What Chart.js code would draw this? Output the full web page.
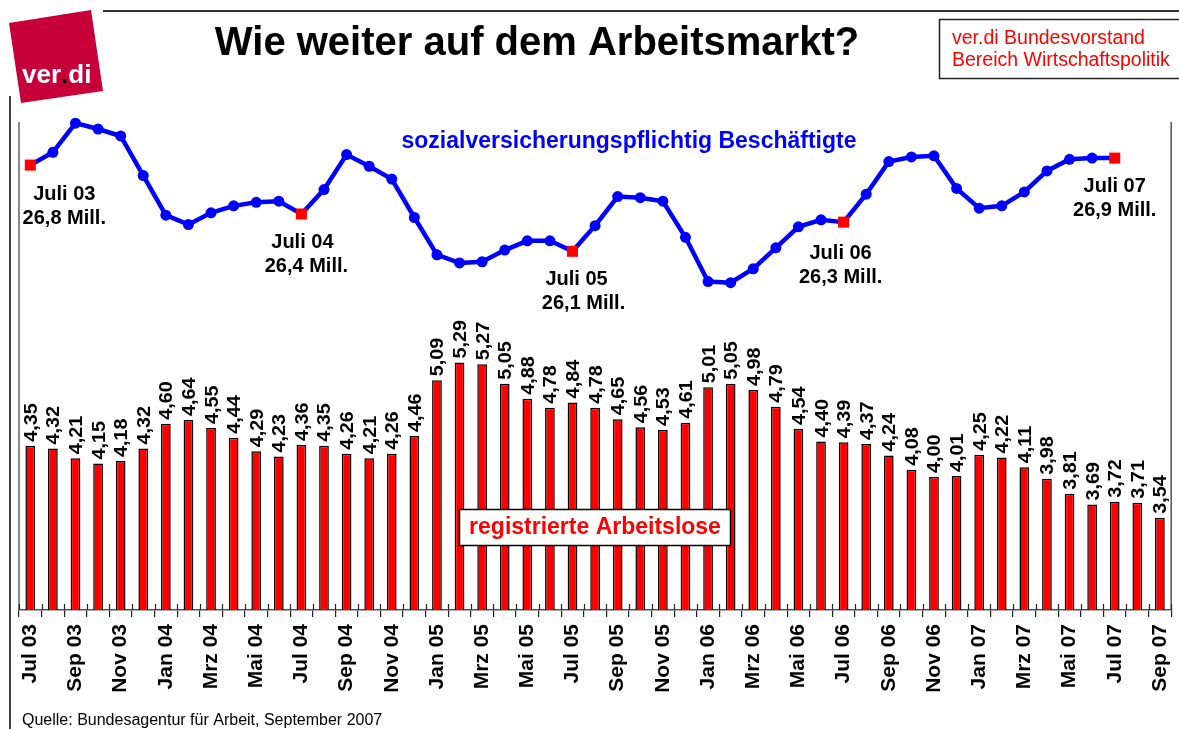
<!DOCTYPE html>
<html>
<head>
<meta charset="utf-8">
<script src="https://cdn.jsdelivr.net/npm/chart.js@4"></script>
<style>
  body { margin: 0; background: #fff; }
</style>
</head>
<body>
<canvas id="chart" width="1179" height="729"></canvas>
<script>
// month labels (x axis), only every 2nd one is printed
const months = [
  "Jul 03", "Aug 03", "Sep 03", "Okt 03", "Nov 03", "Dez 03",
  "Jan 04", "Feb 04", "Mrz 04", "Apr 04", "Mai 04", "Jun 04", "Jul 04", "Aug 04", "Sep 04", "Okt 04", "Nov 04", "Dez 04",
  "Jan 05", "Feb 05", "Mrz 05", "Apr 05", "Mai 05", "Jun 05", "Jul 05", "Aug 05", "Sep 05", "Okt 05", "Nov 05", "Dez 05",
  "Jan 06", "Feb 06", "Mrz 06", "Apr 06", "Mai 06", "Jun 06", "Jul 06", "Aug 06", "Sep 06", "Okt 06", "Nov 06", "Dez 06",
  "Jan 07", "Feb 07", "Mrz 07", "Apr 07", "Mai 07", "Jun 07", "Jul 07", "Aug 07", "Sep 07",
];

// registrierte Arbeitslose (Mio.)
const arbeitslose = [
  4.35, 4.32, 4.21, 4.15, 4.18, 4.32,
  4.60, 4.64, 4.55, 4.44, 4.29, 4.23, 4.36, 4.35, 4.26, 4.21, 4.26, 4.46,
  5.09, 5.29, 5.27, 5.05, 4.88, 4.78, 4.84, 4.78, 4.65, 4.56, 4.53, 4.61,
  5.01, 5.05, 4.98, 4.79, 4.54, 4.40, 4.39, 4.37, 4.24, 4.08, 4.00, 4.01,
  4.25, 4.22, 4.11, 3.98, 3.81, 3.69, 3.72, 3.71, 3.54,
];

// sozialversicherungspflichtig Beschaeftigte (Mio.), Jul 03 - Jul 07
const beschaeftigte = [
  26.82, 26.93, 27.18, 27.13, 27.07, 26.73,
  26.39, 26.31, 26.41, 26.47, 26.50, 26.51, 26.40, 26.61, 26.91, 26.81, 26.70, 26.37,
  26.05, 25.98, 25.99, 26.09, 26.17, 26.17, 26.08, 26.30, 26.55, 26.54, 26.51, 26.20,
  25.82, 25.81, 25.93, 26.11, 26.29, 26.35, 26.33, 26.57, 26.85, 26.89, 26.90, 26.62,
  26.45, 26.47, 26.59, 26.77, 26.87, 26.88, 26.88,
];

// marked July points with their callouts
const markIdx = [0, 12, 24, 36, 48];
const markTitles = ["Juli 03", "Juli 04", "Juli 05", "Juli 06", "Juli 07"];
const markValues = ["26,8 Mill.", "26,4 Mill.", "26,1 Mill.", "26,3 Mill.", "26,9 Mill."];

const titleText = "Wie weiter auf dem Arbeitsmarkt?";
const boxLines = ["ver.di Bundesvorstand", "Bereich Wirtschaftspolitik"];
const lineLabel = "sozialversicherungspflichtig Beschäftigte";
const barLabel = "registrierte Arbeitslose";
const sourceText = "Quelle: Bundesagentur für Arbeit, September 2007";

// callout offsets relative to the marked point (layout only)
const calloutDx1 = [34, 1, 4, -3, 0];
const calloutDx2 = [34, 5, 11, -3, 0];
const calloutDy = [35, 34, 34, 37, 34];

const FONT = '"Liberation Sans", Arial, Helvetica, sans-serif';

const lineData = months.map((m, i) => (i < beschaeftigte.length ? beschaeftigte[i] : null));
const isMark = (i) => markIdx.includes(i);

function seg(ctx, x1, y1, x2, y2) {
  ctx.beginPath();
  ctx.moveTo(x1, y1);
  ctx.lineTo(x2, y2);
  ctx.stroke();
}

const decor = {
  id: "decor",
  beforeDraw(chart) {
    const ctx = chart.ctx;
    const a = chart.chartArea;
    ctx.save();
    ctx.fillStyle = "#fff";
    ctx.fillRect(0, 0, chart.width, chart.height);

    // header rule + left frame
    ctx.strokeStyle = "#333";
    ctx.lineWidth = 2;
    seg(ctx, 103, 11, 1179, 11);
    ctx.strokeStyle = "#000";
    ctx.lineWidth = 1.5;
    seg(ctx, 10, 96, 10, 729);

    // logo
    ctx.fillStyle = "#c8003a";
    ctx.beginPath();
    ctx.moveTo(9, 23);
    ctx.lineTo(91, 10);
    ctx.lineTo(103, 91);
    ctx.lineTo(21, 103);
    ctx.closePath();
    ctx.fill();
    ctx.font = "bold 26px " + FONT;
    ctx.textBaseline = "alphabetic";
    ctx.textAlign = "left";
    let x = 22;
    ctx.fillStyle = "#fff";
    ctx.fillText("ver", x, 83);
    x += ctx.measureText("ver").width;
    ctx.fillStyle = "#000";
    ctx.fillText(".", x, 83);
    x += ctx.measureText(".").width;
    ctx.fillStyle = "#fff";
    ctx.fillText("di", x, 83);

    // title
    ctx.fillStyle = "#000";
    ctx.font = "bold 40px " + FONT;
    ctx.textAlign = "center";
    ctx.fillText(titleText, 537, 55);

    // box top right
    ctx.strokeStyle = "#222";
    ctx.lineWidth = 1.5;
    ctx.strokeRect(939.5, 19.5, 260, 59);
    ctx.fillStyle = "#ff0000";
    ctx.font = "19.5px " + FONT;
    ctx.textAlign = "left";
    ctx.fillText(boxLines[0], 952, 43.5);
    ctx.fillText(boxLines[1], 952, 66);

    // source
    ctx.fillStyle = "#000";
    ctx.font = "16px " + FONT;
    ctx.fillText(sourceText, 22, 725);

    // plot area side lines
    ctx.strokeStyle = "#888";
    ctx.lineWidth = 2;
    seg(ctx, a.left, a.top, a.left, a.bottom);
    ctx.strokeStyle = "#555";
    ctx.lineWidth = 1.5;
    seg(ctx, a.right, a.top, a.right, a.bottom);
    ctx.restore();
  },
  afterDatasetsDraw(chart) {
    const ctx = chart.ctx;
    const xs = chart.scales.x;
    const a = chart.chartArea;
    ctx.save();

    // upper part of the tick marks
    ctx.strokeStyle = "#222";
    ctx.lineWidth = 1.2;
    for (let i = 0; i <= months.length; i++) {
      const px = Math.round(xs.getPixelForValue(i - 0.5)) + 0.5;
      seg(ctx, px, a.bottom - 6, px, a.bottom);
    }

    // value labels on bars, rotated
    const fs = 18;
    ctx.fillStyle = "#000";
    ctx.font = "bold " + fs + "px " + FONT;
    ctx.textAlign = "left";
    ctx.textBaseline = "alphabetic";
    chart.getDatasetMeta(0).data.forEach((bar, i) => {
      const txt = arbeitslose[i].toFixed(2).replace(".", ",");
      ctx.save();
      ctx.translate(bar.x, bar.y - 4);
      ctx.rotate(-Math.PI / 2);
      ctx.scale(1.1, 1);
      ctx.fillText(txt, 0, fs * 0.36);
      ctx.restore();
    });

    // callouts at the July points
    const pts = chart.getDatasetMeta(1).data;
    ctx.font = "bold 20px " + FONT;
    ctx.textAlign = "center";
    markIdx.forEach((idx, k) => {
      const p = pts[idx];
      ctx.fillText(markTitles[k], p.x + calloutDx1[k], p.y + calloutDy[k]);
      ctx.fillText(markValues[k], p.x + calloutDx2[k], p.y + calloutDy[k] + 24);
    });

    // series captions
    ctx.fillStyle = "#0000ff";
    ctx.font = "bold 23px " + FONT;
    ctx.fillText(lineLabel, 629, 148);

    ctx.fillStyle = "#fff";
    ctx.fillRect(459.5, 509.5, 271, 36);
    ctx.strokeStyle = "#000";
    ctx.lineWidth = 1.5;
    ctx.strokeRect(459.5, 509.5, 271, 36);
    ctx.fillStyle = "#ff0000";
    ctx.fillText(barLabel, 595, 534);
    ctx.restore();
  },
};

new Chart(document.getElementById("chart"), {
  type: "bar",
  data: {
    labels: months,
    datasets: [
      {
        type: "bar",
        data: arbeitslose,
        yAxisID: "yBar",
        backgroundColor: "#ff0000",
        borderColor: "#000",
        borderWidth: 1.5,
        barPercentage: 0.43,
        categoryPercentage: 1,
        order: 1,
      },
      {
        type: "line",
        data: lineData,
        yAxisID: "yLine",
        borderColor: "#0000ff",
        borderWidth: 4.5,
        tension: 0,
        clip: false,
        pointStyle: lineData.map((v, i) => (isMark(i) ? "rect" : "circle")),
        pointRadius: lineData.map((v, i) => (isMark(i) ? 7.8 : 5.5)),
        pointBackgroundColor: lineData.map((v, i) => (isMark(i) ? "#ff0000" : "#0000ff")),
        pointBorderWidth: 0,
        order: 0,
      },
    ],
  },
  options: {
    responsive: false,
    animation: false,
    layout: { padding: { left: 19, right: 7, top: 122, bottom: 0 } },
    plugins: { legend: { display: false }, tooltip: { enabled: false } },
    scales: {
      x: {
        grid: { offset: true, drawOnChartArea: false, tickLength: 7, color: "#222", lineWidth: 1.2 },
        border: { color: "#555", width: 1.5 },
        ticks: {
          autoSkip: false,
          maxRotation: 90,
          minRotation: 90,
          padding: 7,
          color: "#000",
          font: { family: FONT, size: 21, weight: "bold" },
          callback: (v, i) => (i % 2 === 0 ? months[i] : ""),
        },
        afterFit: (s) => {
          s.height = 119;
          s.paddingLeft = 0;
          s.paddingRight = 0;
        },
      },
      yBar: { display: false, min: 2.5, max: 8 },
      yLine: { display: false, min: 23, max: 27.19 },
    },
  },
  plugins: [decor],
});
</script>
</body>
</html>
